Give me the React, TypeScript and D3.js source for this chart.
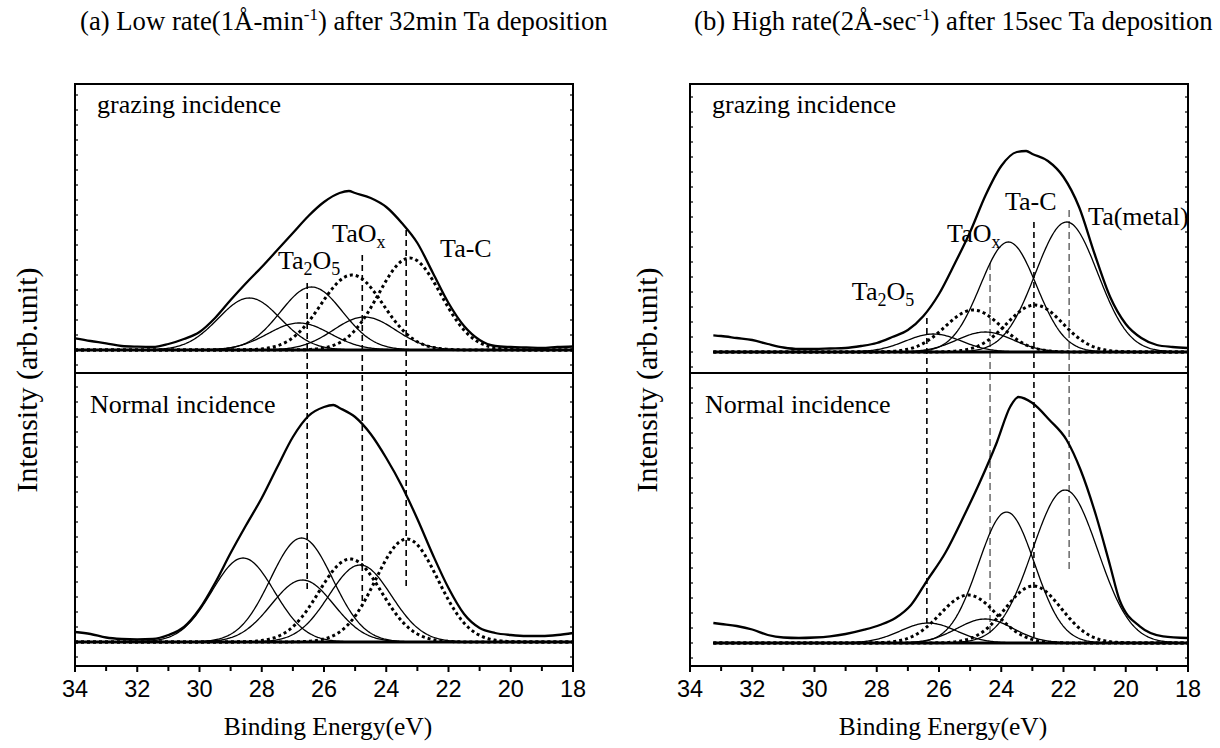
import React from 'react';
import * as d3 from 'd3';

// ---------- data (binding energy in eV, intensity in arb. units) ----------
const xMajorTicks = [34, 32, 30, 28, 26, 24, 22, 20, 18];
const xMinorTicks = [33, 31, 29, 27, 25, 23, 21, 19];

// fitted components: [centre eV, height, sigma eV, dotted? 1 : 0]
type Peak = [number, number, number, number];
const peaksLowGrazing: Peak[] = [
  [28.4, 52, 1.0, 0],
  [26.4, 63, 1.0, 0],
  [26.8, 27, 1.0, 0],
  [25.1, 75, 1.0, 1],
  [24.7, 33, 1.0, 0],
  [23.25, 92, 1.0, 1],
];
const peaksLowNormal: Peak[] = [
  [28.6, 84, 1.0, 0],
  [26.72, 104, 1.0, 0],
  [26.69, 62, 1.0, 0],
  [25.16, 83, 1.0, 1],
  [24.84, 77, 1.0, 0],
  [23.34, 103, 1.0, 1],
];
const peaksHighGrazing: Peak[] = [
  [21.9, 130, 1.0, 0],
  [23.77, 110, 0.9, 0],
  [22.92, 47, 0.9, 1],
  [24.9, 42, 0.9, 1],
  [24.52, 20, 0.9, 0],
  [26.18, 18, 0.9, 0],
];
const peaksHighNormal: Peak[] = [
  [21.95, 153, 1.05, 0],
  [23.83, 131, 0.9, 0],
  [22.97, 57, 0.9, 1],
  [25.06, 48, 0.9, 1],
  [24.52, 24, 0.9, 0],
  [26.34, 20, 0.9, 0],
];

// measured spectra: [eV, intensity]
const rawLowGrazing: [number, number][] = [
  [34, 11.7], [33.5, 9], [33, 6.7], [32.5, 4], [32, 3.3], [31.5, 3], [31, 6], [30.5, 11],
  [30, 18], [29.5, 32], [29, 50], [28.5, 67], [28, 83], [27.5, 100], [27, 117], [26.5, 134],
  [26, 148], [25.5, 157], [25.2, 159], [25, 157], [24.5, 152], [24, 143], [23.5, 127],
  [23, 107], [22.5, 77], [22, 47], [21.5, 24], [21, 10], [20.5, 4], [20, 3], [19.5, 2.5],
  [19, 2], [18.5, 3], [18, 3.5],
];
const rawLowNormal: [number, number][] = [
  [34, 10], [33.5, 8], [33, 4.5], [32.5, 3], [32, 2.5], [31.5, 3], [31, 7], [30.5, 15],
  [30, 33], [29.5, 59], [29, 89], [28.5, 117], [28, 144], [27.5, 175], [27, 205], [26.5, 226],
  [26, 235], [25.7, 237], [25.5, 234], [25, 225], [24.5, 208], [24, 184], [23.5, 156],
  [23, 123], [22.5, 87], [22, 54], [21.5, 28], [21, 14], [20.5, 9], [20, 7], [19.5, 6],
  [19, 6], [18.5, 7], [18, 9],
];
const rawHighGrazing: [number, number][] = [
  [33.25, 16.7], [33, 16], [32.5, 14], [32, 12], [31.5, 8], [31, 4.5], [30.5, 3], [30, 3],
  [29.5, 3.5], [29, 4], [28.5, 6], [28, 9], [27.5, 15], [27, 22], [26.5, 36], [26, 58],
  [25.5, 88], [25, 120], [24.5, 157], [24, 186], [23.5, 200], [23.2, 201], [23, 198],
  [22.5, 191], [22, 175], [21.5, 145], [21, 98], [20.5, 55], [20, 28], [19.5, 14], [19, 7],
  [18.5, 5], [18, 4],
];
const rawHighNormal: [number, number][] = [
  [33.25, 20], [33, 19], [32.5, 17], [32, 13.5], [31.5, 8], [31, 5.5], [30.5, 5],
  [30, 5.5], [29.5, 6.7], [29, 9], [28.4, 13.3], [27.9, 18], [27.4, 25], [26.9, 38],
  [26.4, 61.7], [25.8, 90], [25.2, 127], [24.7, 160], [24.15, 200], [23.7, 237], [23.45, 246],
  [23, 240], [22.45, 223], [21.9, 203], [21.45, 173], [20.95, 127], [20.5, 77], [20.2, 43],
  [19.55, 16.7], [18.8, 6.7], [18, 5],
];

// vertical guide lines: [eV, top-panel intensity, bottom-panel intensity, heavy? 1 : 0]
const guidesLow: [number, number, number, number][] = [
  [26.54, 67, 52, 1],
  [24.77, 95, 35, 1],
  [23.36, 120, 54, 1],
];
const guidesHigh: [number, number, number, number][] = [
  [26.39, 34, 20, 1],
  [24.36, 89, 10, 0],
  [22.95, 130, 6, 1],
  [21.82, 142, 70, 0],
];

// ---------- drawing ----------
const serif = "'Liberation Serif','Times New Roman',Times,serif";
const sans = "'Liberation Sans',Arial,Helvetica,sans-serif";

function gauss(p: Peak, e: number) {
  return p[1] * Math.exp(-0.5 * ((e - p[0]) / p[2]) ** 2);
}

type Lbl = { text: React.ReactNode; e: number; v: number };

function Panel(props: {
  left: number; right: number; top: number; mid: number; bottom: number;
  eStart: number;
  peaksTop: Peak[]; peaksBot: Peak[];
  rawTop: [number, number][]; rawBot: [number, number][];
  topDomain: [number, number]; botDomain: [number, number];
  guides: [number, number, number, number][];
  labels: Lbl[];
  title: React.ReactNode; titleX: number;
  yLabelX: number;
}) {
  const { left, right, top, mid, bottom } = props;
  const x = d3.scaleLinear().domain([34, 18]).range([left, right]);
  const yT = d3.scaleLinear().domain(props.topDomain).range([mid, top]);
  const yB = d3.scaleLinear().domain(props.botDomain).range([bottom, mid]);
  const grid = d3.range(props.eStart, 17.99, -0.04);

  const sub = (y: d3.ScaleLinear<number, number>, peaks: Peak[], raw: [number, number][], key: string) => {
    const line = d3.line<[number, number]>().x(d => x(d[0])).y(d => y(d[1]));
    const rawLine = d3.line<[number, number]>().x(d => x(d[0])).y(d => y(d[1])).curve(d3.curveMonotoneX);
    return (
      <g key={key}>
        <line x1={x(props.eStart)} x2={x(18)} y1={y(0)} y2={y(0)} stroke="#000" strokeWidth={3} />
        {peaks.map((p, i) => (
          <path key={i} d={line(grid.map(e => [e, gauss(p, e)] as [number, number])) || ''}
            fill="none" stroke="#000"
            strokeWidth={p[3] ? 3 : 1.3}
            strokeDasharray={p[3] ? '3 3' : undefined} />
        ))}
        <path d={rawLine(raw) || ''} fill="none" stroke="#000" strokeWidth={2.3} />
      </g>
    );
  };

  const yTickVals = (y: d3.ScaleLinear<number, number>) => {
    const [a, b] = y.domain();
    return d3.range(Math.ceil(a / 15) * 15, b, 15);
  };

  return (
    <g>
      <text x={props.titleX} y={30} fontFamily={serif} fontSize={26.7}>{props.title}</text>
      {sub(yT, props.peaksTop, props.rawTop, 't')}
      {sub(yB, props.peaksBot, props.rawBot, 'b')}
      {props.guides.map((g, i) => (
        <line key={i} x1={x(g[0])} x2={x(g[0])} y1={yT(g[1])} y2={yB(g[2])}
          stroke="#000" strokeWidth={g[3] ? 1.6 : 0.9} strokeDasharray={g[3] ? '6 4' : '7 4'} />
      ))}
      {/* frame */}
      <rect x={left} y={top} width={right - left} height={bottom - top} fill="none" stroke="#000" strokeWidth={2} />
      <line x1={left} x2={right} y1={mid} y2={mid} stroke="#000" strokeWidth={2} />
      {/* y minor ticks, inward, both sides */}
      {[yT, yB].map((y, k) => yTickVals(y).map(v => (
        <g key={`${k}-${v}`}>
          <line x1={left} x2={left + 3} y1={y(v)} y2={y(v)} stroke="#000" strokeWidth={1.2} />
          <line x1={right} x2={right - 3} y1={y(v)} y2={y(v)} stroke="#000" strokeWidth={1.2} />
        </g>
      )))}
      {/* x ticks */}
      {xMajorTicks.map(t => (
        <g key={t}>
          <line x1={x(t)} x2={x(t)} y1={bottom} y2={bottom + 6} stroke="#000" strokeWidth={2} />
          <text x={x(t)} y={697} textAnchor="middle" fontFamily={sans} fontSize={23.5}>{t}</text>
        </g>
      ))}
      {xMinorTicks.map(t => (
        <line key={t} x1={x(t)} x2={x(t)} y1={bottom} y2={bottom + 5} stroke="#000" strokeWidth={2} />
      ))}
      <text x={(left + right) / 2 + 4} y={735} textAnchor="middle" fontFamily={serif} fontSize={25.5}>Binding Energy(eV)</text>
      <text transform={`translate(${props.yLabelX},380) rotate(-90)`} textAnchor="middle" fontFamily={serif} fontSize={30}>Intensity (arb.unit)</text>
      <text x={left + 22} y={top + 29} fontFamily={serif} fontSize={26}>grazing incidence</text>
      <text x={left + 15} y={mid + 40} fontFamily={serif} fontSize={26}>Normal incidence</text>
      {props.labels.map((l, i) => (
        <text key={i} x={x(l.e)} y={yT(l.v)} fontFamily={serif} fontSize={26}>{l.text}</text>
      ))}
    </g>
  );
}

const Ta2O5 = (
  <>Ta<tspan dy={6} fontSize={18}>2</tspan><tspan dy={-6}>O</tspan><tspan dy={6} fontSize={18}>5</tspan></>
);
const TaOx = (<>TaO<tspan dy={6} fontSize={18}>x</tspan></>);

export default function App() {
  return (
    <svg width={1220} height={748} viewBox="0 0 1220 748"
      style={{ position: 'absolute', left: 0, top: 0, background: '#fff' }}>
      <rect width={1220} height={748} fill="#fff" />
      <Panel
        left={75} right={573} top={84} mid={373} bottom={666}
        eStart={34}
        peaksTop={peaksLowGrazing} peaksBot={peaksLowNormal}
        rawTop={rawLowGrazing} rawBot={rawLowNormal}
        topDomain={[-23, 266]} botDomain={[-24, 269]}
        guides={guidesLow}
        labels={[
          { text: Ta2O5, e: 27.48, v: 81 },
          { text: TaOx, e: 25.74, v: 108 },
          { text: 'Ta-C', e: 22.27, v: 93 },
        ]}
        title={<>(a) Low rate(1Å-min<tspan dy={-10} fontSize={17}>-1</tspan><tspan dy={10}>) after 32min Ta deposition</tspan></>}
        titleX={80}
        yLabelX={37}
      />
      <Panel
        left={690} right={1188} top={84} mid={373} bottom={666}
        eStart={33.25}
        peaksTop={peaksHighGrazing} peaksBot={peaksHighNormal}
        rawTop={rawHighGrazing} rawBot={rawHighNormal}
        topDomain={[-21, 268]} botDomain={[-23, 270]}
        guides={guidesHigh}
        labels={[
          { text: Ta2O5, e: 28.8, v: 52 },
          { text: TaOx, e: 25.74, v: 110 },
          { text: 'Ta-C', e: 23.88, v: 142 },
          { text: 'Ta(metal)', e: 21.21, v: 127 },
        ]}
        title={<>(b) High rate(2Å-sec<tspan dy={-10} fontSize={17}>-1</tspan><tspan dy={10}>) after 15sec Ta deposition</tspan></>}
        titleX={694}
        yLabelX={657}
      />
    </svg>
  );
}
